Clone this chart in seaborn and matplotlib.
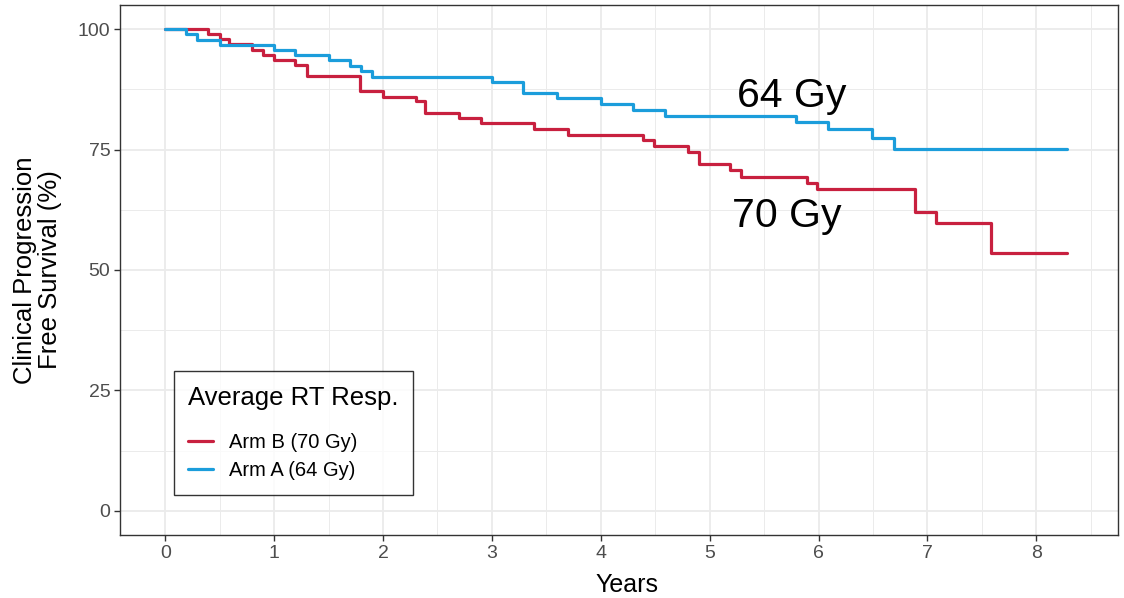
import matplotlib
matplotlib.use("Agg")
import matplotlib.pyplot as plt
import numpy as np
import pandas as pd
import seaborn as sns

# Kaplan-Meier step estimates (time in years, survival in %)
arm_b_time = [0, 0.39, 0.5, 0.59, 0.8, 0.9, 1.0, 1.19, 1.3, 1.79, 2.0, 2.3, 2.39,
              2.7, 2.9, 3.39, 3.7, 4.39, 4.49, 4.8, 4.9, 5.19, 5.29, 5.89, 5.99,
              6.89, 7.08, 7.58, 8.28]
arm_b_surv = [100, 99.0, 98.0, 97.0, 95.7, 94.7, 93.5, 92.5, 90.3, 87.2, 86.0, 85.0,
              82.6, 81.6, 80.5, 79.3, 78.1, 77.0, 75.8, 74.5, 72.0, 70.8, 69.4, 68.1,
              66.9, 62.1, 59.7, 53.6, 53.6]

arm_a_time = [0, 0.19, 0.29, 0.5, 1.0, 1.19, 1.5, 1.7, 1.8, 1.9, 3.0, 3.29, 3.6,
              4.0, 4.3, 4.59, 5.79, 6.09, 6.49, 6.69, 8.28]
arm_a_surv = [100, 99.0, 97.8, 96.7, 95.7, 94.6, 93.5, 92.4, 91.3, 90.1, 89.0, 86.7,
              85.6, 84.4, 83.2, 82.0, 80.8, 79.3, 77.4, 75.2, 75.2]

arm_labels = ["Arm B (70 Gy)", "Arm A (64 Gy)"]
arm_colors = ["#C8203F", "#1B9DDB"]

x_ticks = [0, 1, 2, 3, 4, 5, 6, 7, 8]
y_ticks = [0, 25, 50, 75, 100]

df = pd.concat([
    pd.DataFrame({"Years": arm_b_time, "Surv": arm_b_surv, "arm": arm_labels[0]}),
    pd.DataFrame({"Years": arm_a_time, "Surv": arm_a_surv, "arm": arm_labels[1]}),
], ignore_index=True)

sns.set_theme(style="white")
plt.rcParams["font.family"] = ["Liberation Sans", "DejaVu Sans"]
plt.rcParams["text.color"] = "black"

fig = plt.figure(figsize=(11.24, 5.98), dpi=100)
ax = fig.add_axes([120 / 1124, 1 - 535 / 598, 998 / 1124, 530 / 598])

sns.lineplot(data=df, x="Years", y="Surv", hue="arm", hue_order=arm_labels,
             palette=arm_colors, drawstyle="steps-post", estimator=None,
             linewidth=2.3, ax=ax, zorder=3)

ax.set_xlim(-0.415, 8.75)
ax.set_ylim(-5, 105)
ax.set_xticks(x_ticks)
ax.set_yticks(y_ticks)
ax.set_xticks(np.arange(0.5, 8.6, 1.0), minor=True)
ax.set_yticks([12.5, 37.5, 62.5, 87.5], minor=True)
ax.grid(True, which="major", color="#EBEBEB", linewidth=1.3, zorder=0)
ax.grid(True, which="minor", color="#EBEBEB", linewidth=0.7, zorder=0)
ax.set_axisbelow(True)

for sp in ax.spines.values():
    sp.set_color("#333333")
    sp.set_linewidth(1.0)

ax.tick_params(axis="both", which="major", length=4, width=1.0, color="#333333",
               labelsize=14, labelcolor="#4D4D4D", pad=3, bottom=True, left=True)
ax.tick_params(axis="both", which="minor", length=0)

ax.set_xlabel("Years", fontsize=18, color="black")
ax.xaxis.set_label_coords(0.5085, -0.071)
ax.set_ylabel("Clinical Progression\nFree Survival (%)", fontsize=18.5,
              color="black", labelpad=11, linespacing=1.05)

ax.text(5.75, 83.9, "64 Gy", fontsize=29.5, ha="center", va="baseline", color="black")
ax.text(5.705, 59.0, "70 Gy", fontsize=29.5, ha="center", va="baseline", color="black")

leg = ax.legend(title="Average RT Resp.", loc="lower left",
                bbox_to_anchor=(0.054, 0.0755), borderaxespad=0,
                fontsize=14.5, title_fontsize=18.5, frameon=True, fancybox=False,
                edgecolor="black", handlelength=1.2, handletextpad=0.8,
                labelspacing=0.45, borderpad=0.72, alignment="left")
leg.get_frame().set_linewidth(1.0)
leg._legend_box.sep = 17
for line in leg.get_lines():
    line.set_linewidth(2.3)
for t in leg.get_texts():
    t.set_color("black")
leg.get_title().set_color("black")

fig.savefig("out.png", dpi=100)
